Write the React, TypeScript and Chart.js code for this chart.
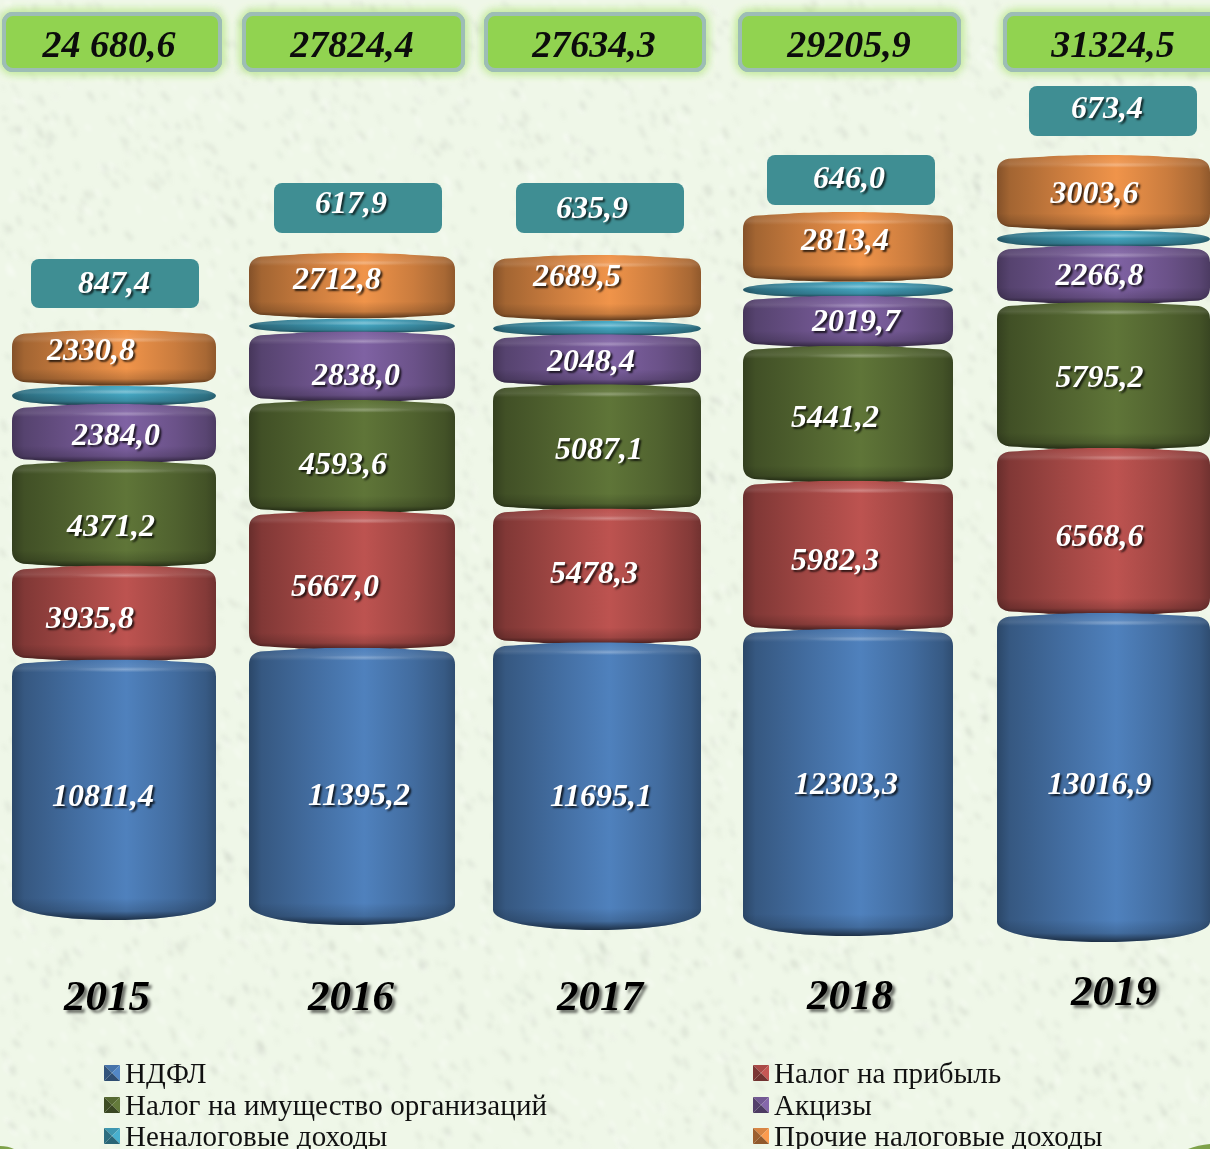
import React, { useEffect, useRef } from "react";
import { Chart, registerables, CategoryScale } from "chart.js";

const years = ["2015", "2016", "2017", "2018", "2019"];
const seriesNames = ["НДФЛ", "Налог на прибыль", "Налог на имущество организаций", "Акцизы", "Неналоговые доходы", "Прочие налоговые доходы"];
const ndfl = [10811.4, 11395.2, 11695.1, 12303.3, 13016.9];
const profitTax = [3935.8, 5667.0, 5478.3, 5982.3, 6568.6];
const propertyTax = [4371.2, 4593.6, 5087.1, 5441.2, 5795.2];
const excise = [2384.0, 2838.0, 2048.4, 2019.7, 2266.8];
const nonTax = [847.4, 617.9, 635.9, 646.0, 673.4];
const otherTax = [2330.8, 2712.8, 2689.5, 2813.4, 3003.6];
const totals = ["24 680,6", "27824,4", "27634,3", "29205,9", "31324,5"];

const seriesValues = [ndfl, profitTax, propertyTax, excise, nonTax, otherTax];
const seriesColors = ["#4f81bd", "#bd5350", "#5f7538", "#7f62a3", "#45a8c4", "#f0944a"];

// layout of the picture
const W = 1210, H = 1149;
const barCenters = [114, 352, 597, 848, 1103.5];
const barWidths = [204, 206, 208, 210, 213];
const barBottoms = [920, 925, 930, 936, 942];
const pxPerUnit = [0.023905, 0.024151, 0.024426, 0.02479, 0.025124];
const labelShift: any[][][] = [
  [[-11, 5], [-24, 3.5], [-3, 10.5], [2, 0.5], null, [-23, -8.5]],
  [[7, 7.5], [-17, 4], [-9, 6], [4, 7], null, [-15, -7]],
  [[4, 8.5], [-3, -5], [2, 0], [-6, -1], null, [-20, -12]],
  [[-2, 0], [-13, 3], [-13, 1], [8, -2], null, [-3, -7]],
  [[-4, 5], [-4, 3], [-4, 0], [-4, -1], null, [-9, 0]],
];
const tealBoxes = [[31, 259, 168, 49, 114, 285], [274, 183, 168, 50, 351, 205], [516, 183, 168, 50, 592, 210], [767, 155, 168, 50, 849, 180], [1029, 86, 168, 50, 1107, 110]];
const totalBoxes = [[4, 14, 216, 56, 109], [244, 14, 219, 56, 352], [486, 14, 218, 56, 594], [740, 14, 219, 56, 849], [1005, 14, 222, 56, 1113]];
const yearAnchors = [[107, 999], [351, 999], [600, 999], [850, 998], [1114, 994]];
const legendSlots = [[104, 1083], [753, 1083], [104, 1115], [753, 1115], [104, 1146], [753, 1146]];

class PlacedCategoryScale extends CategoryScale {
  static id = "placedCategory";
  static defaults = CategoryScale.defaults;
  getPixelForValue(value: any) {
    const i = typeof value === "number" ? value : (this as any).parse(value);
    return barCenters[Math.round(i)];
  }
}
Chart.register(...registerables, PlacedCategoryScale as any);

const shade = (hex: string, f: number) => {
  const n = parseInt(hex.slice(1), 16);
  const c = [(n >> 16) & 255, (n >> 8) & 255, n & 255].map((v) => Math.max(0, Math.min(255, Math.round(v * f))));
  return `rgb(${c[0]},${c[1]},${c[2]})`;
};
const hash = (i: number) => {
  const s = Math.sin(i * 12.9898 + 78.233) * 43758.5453;
  return s - Math.floor(s);
};

let texture: HTMLCanvasElement | null = null;
function getTexture() {
  if (texture) return texture;
  const strokes = document.createElement("canvas");
  strokes.width = W; strokes.height = H;
  const s = strokes.getContext("2d")!;
  s.lineCap = "round";
  for (let i = 0; i < 7000; i++) {
    const x = hash(i * 3 + 1) * W, y = hash(i * 3 + 2) * H;
    const a = 0.7 + hash(i * 3 + 3) * 0.6;
    const l = 2 + hash(i * 7 + 5) * 7;
    const dark = hash(i * 11 + 7) > 0.35;
    s.strokeStyle = dark ? `rgba(130,135,125,${0.05 + hash(i * 13) * 0.12})` : "rgba(255,255,255,0.35)";
    s.lineWidth = 2 + hash(i * 17) * 2.5;
    s.beginPath();
    s.moveTo(x, y);
    s.lineTo(x + Math.cos(a) * l, y + Math.sin(a) * l);
    s.stroke();
  }
  const c = document.createElement("canvas");
  c.width = W; c.height = H;
  const g = c.getContext("2d")!;
  g.fillStyle = "#eff7e8";
  g.fillRect(0, 0, W, H);
  g.filter = "blur(2px)";
  g.drawImage(strokes, 0, 0);
  g.filter = "none";
  // green slivers of the slide frame in the lower corners
  g.fillStyle = "#7ea24a";
  g.beginPath();
  g.moveTo(0, 1146); g.quadraticCurveTo(8, 1146, 14, 1149); g.lineTo(0, 1149); g.closePath();
  g.fill();
  g.beginPath();
  g.moveTo(W, 1144); g.quadraticCurveTo(1198, 1145, 1188, 1149); g.lineTo(W, 1149); g.closePath();
  g.fill();
  texture = c;
  return c;
}

function barrelPath(ctx: CanvasRenderingContext2D, x0: number, x1: number, top: number, bot: number, teal: boolean, blue: boolean) {
  const w = x1 - x0, cx = (x0 + x1) / 2, h = bot - top;
  ctx.beginPath();
  if (teal) {
    const m = (top + bot) / 2;
    ctx.moveTo(x0, m);
    ctx.bezierCurveTo(x0 + 1, top + 3, x0 + w * 0.15, top + 1, cx, top);
    ctx.bezierCurveTo(x1 - w * 0.15, top + 1, x1 - 1, top + 3, x1, m);
    ctx.bezierCurveTo(x1 - 1, bot - 3, x1 - w * 0.15, bot - 1, cx, bot);
    ctx.bezierCurveTo(x0 + w * 0.15, bot - 1, x0 + 1, bot - 3, x0, m);
    ctx.closePath();
    return;
  }
  const r = Math.min(14, h * 0.35);
  const e = 15;
  ctx.moveTo(x0, top + r + 3);
  ctx.quadraticCurveTo(x0, top + 4, x0 + e, top + 3.5);
  ctx.bezierCurveTo(x0 + w * 0.22, top + 1.8, cx - w * 0.2, top, cx, top);
  ctx.bezierCurveTo(cx + w * 0.2, top, x1 - w * 0.22, top + 1.8, x1 - e, top + 3.5);
  ctx.quadraticCurveTo(x1, top + 4, x1, top + r + 3);
  if (blue) {
    ctx.lineTo(x1, bot - 20);
    ctx.bezierCurveTo(x1, bot - 9, x1 - w * 0.2, bot, cx, bot);
    ctx.bezierCurveTo(x0 + w * 0.2, bot, x0, bot - 9, x0, bot - 20);
  } else {
    ctx.lineTo(x1, bot - r - 3);
    ctx.quadraticCurveTo(x1, bot - 4, x1 - e, bot - 3.5);
    ctx.bezierCurveTo(x1 - w * 0.22, bot - 1.8, cx + w * 0.2, bot, cx, bot);
    ctx.bezierCurveTo(cx - w * 0.2, bot, x0 + w * 0.22, bot - 1.8, x0 + e, bot - 3.5);
    ctx.quadraticCurveTo(x0, bot - 4, x0, bot - r - 3);
  }
  ctx.closePath();
}

function drawBarrel(ctx: CanvasRenderingContext2D, el: any, color: string, s: number) {
  const { x, y, base, width } = el;
  const teal = s === 4, blue = s === 0;
  const x0 = x - width / 2, x1 = x + width / 2;
  const top = Math.min(y, base) - (teal || s === 5 ? 0 : 2), bot = Math.max(y, base);
  const h = bot - top;
  ctx.save();
  barrelPath(ctx, x0, x1, top, bot, teal, blue);
  ctx.clip();
  const g = ctx.createLinearGradient(x0, 0, x1, 0);
  g.addColorStop(0, shade(color, 0.55));
  g.addColorStop(0.06, shade(color, 0.68));
  g.addColorStop(0.3, shade(color, 0.84));
  g.addColorStop(0.56, shade(color, 1));
  g.addColorStop(0.8, shade(color, 0.84));
  g.addColorStop(0.95, shade(color, 0.7));
  g.addColorStop(1, shade(color, 0.6));
  ctx.fillStyle = g;
  ctx.fillRect(x0, top, width, h);
  // upper bevel
  const band = teal ? h * 0.45 : 13;
  const up = ctx.createLinearGradient(0, top, 0, top + band);
  up.addColorStop(0, "rgba(255,255,255,0)");
  up.addColorStop(0.7, "rgba(255,255,255,0.1)");
  up.addColorStop(1, "rgba(255,255,255,0)");
  ctx.fillStyle = up;
  ctx.fillRect(x0, top, width, band);
  // spot of light on the bevel
  ctx.save();
  ctx.translate(x + width * 0.05, top + (teal ? h * 0.3 : 10));
  ctx.scale(1, 0.05);
  const sp = ctx.createRadialGradient(0, 0, 0, 0, 0, width * 0.26);
  sp.addColorStop(0, "rgba(255,255,255,0.24)");
  sp.addColorStop(1, "rgba(255,255,255,0)");
  ctx.fillStyle = sp;
  ctx.beginPath();
  ctx.arc(0, 0, width * 0.26, 0, Math.PI * 2);
  ctx.fill();
  ctx.restore();
  // lower bevel
  const lb = teal ? h * 0.6 : blue ? 22 : 17;
  const dn = ctx.createLinearGradient(0, bot - lb, 0, bot);
  dn.addColorStop(0, "rgba(0,0,0,0)");
  dn.addColorStop(0.6, "rgba(0,0,0,0.16)");
  dn.addColorStop(1, "rgba(0,0,0,0.62)");
  ctx.fillStyle = dn;
  ctx.fillRect(x0, bot - lb, width, lb);
  ctx.restore();
}

const fmt = (v: number) => v.toFixed(1).replace(".", ",");
const serif = (px: number) => `italic bold ${px}px "Liberation Serif"`;

function roundedBox(ctx: CanvasRenderingContext2D, x: number, y: number, w: number, h: number, r: number) {
  ctx.beginPath();
  ctx.roundRect(x, y, w, h, r);
}

const paperPlugin = {
  id: "paper",
  beforeDraw(chart: any) {
    chart.ctx.drawImage(getTexture(), 0, 0);
  },
};

const barrelPlugin = {
  id: "barrels",
  beforeDatasetDraw(chart: any, args: any) {
    const ds = chart.data.datasets[args.index];
    const el = args.meta.data[ds.yearIndex];
    if (el) drawBarrel(chart.ctx, el, ds.backgroundColor, ds.seriesIndex);
    return false;
  },
};

const textPlugin = {
  id: "texts",
  afterDraw(chart: any) {
    const ctx: CanvasRenderingContext2D = chart.ctx;
    ctx.save();
    ctx.textAlign = "center";
    ctx.textBaseline = "middle";
    chart.data.datasets.forEach((ds: any, di: number) => {
      const el = chart.getDatasetMeta(di).data[ds.yearIndex];
      const shift = labelShift[ds.yearIndex][ds.seriesIndex];
      if (!shift) return;
      ctx.save();
      ctx.font = serif(32);
      ctx.fillStyle = "#ffffff";
      ctx.shadowColor = "rgba(0,0,0,0.75)";
      ctx.shadowBlur = 2;
      ctx.shadowOffsetX = 2;
      ctx.shadowOffsetY = 2;
      const value = ds.data[ds.yearIndex];
      ctx.fillText(fmt(value), el.x + shift[0], (el.y + el.base) / 2 + shift[1] + 2);
      ctx.restore();
    });
    // teal value plates
    tealBoxes.forEach(([x, y, w, h, tx, ty], i) => {
      ctx.fillStyle = "#3f8e93";
      roundedBox(ctx, x, y, w, h, 8);
      ctx.fill();
      ctx.save();
      ctx.font = serif(32);
      ctx.fillStyle = "#ffffff";
      ctx.shadowColor = "rgba(0,0,0,0.7)";
      ctx.shadowBlur = 2;
      ctx.shadowOffsetX = 2;
      ctx.shadowOffsetY = 2;
      ctx.fillText(fmt(nonTax[i]), tx, ty);
      ctx.restore();
    });
    // totals
    totalBoxes.forEach(([x, y, w, h, tx], i) => {
      ctx.save();
      ctx.shadowColor = "rgba(175,228,120,1)";
      ctx.shadowBlur = 10;
      ctx.strokeStyle = "#9dbdb5";
      ctx.lineWidth = 4;
      roundedBox(ctx, x, y, w, h, 9);
      ctx.stroke();
      ctx.stroke();
      ctx.shadowColor = "transparent";
      ctx.fillStyle = "#91d350";
      ctx.fill();
      ctx.stroke();
      ctx.restore();
      ctx.font = serif(38);
      ctx.fillStyle = "#0c0c0c";
      ctx.fillText(totals[i], tx, 47);
    });
    // years
    years.forEach((label, i) => {
      ctx.save();
      ctx.font = serif(43);
      ctx.fillStyle = "#000000";
      ctx.shadowColor = "rgba(0,0,0,0.55)";
      ctx.shadowBlur = 3;
      ctx.shadowOffsetX = 3;
      ctx.shadowOffsetY = 3;
      ctx.fillText(label, yearAnchors[i][0], yearAnchors[i][1]);
      ctx.restore();
    });
    // legend
    ctx.textAlign = "left";
    ctx.textBaseline = "alphabetic";
    seriesNames.forEach((name, s) => {
      const [x, y] = legendSlots[s];
      const m = 16, my = y - 18;
      const col = seriesColors[s];
      const tri = (pts: number[][], f: number) => {
        ctx.fillStyle = shade(col, f);
        ctx.beginPath();
        pts.forEach((p, k) => (k ? ctx.lineTo(p[0], p[1]) : ctx.moveTo(p[0], p[1])));
        ctx.closePath();
        ctx.fill();
      };
      const c = [x + m / 2, my + m / 2];
      tri([[x, my], [x + m, my], c], 0.9);
      tri([[x + m, my], [x + m, my + m], c], 1.05);
      tri([[x + m, my + m], [x, my + m], c], 0.6);
      tri([[x, my + m], [x, my], c], 0.65);
      ctx.font = '29px "Liberation Serif"';
      (ctx as any).letterSpacing = "0.12px";
      ctx.fillStyle = "#111111";
      ctx.fillText(name, x + 21, y);
      (ctx as any).letterSpacing = "0px";
    });
    ctx.restore();
  },
};

export default function App() {
  const ref = useRef<HTMLCanvasElement>(null);
  useEffect(() => {
    document.body.style.margin = "0";
    const datasets: any[] = [];
    const scales: any = {
      x: { type: "placedCategory", display: false, stacked: true },
    };
    years.forEach((_, yi) => {
      const k = pxPerUnit[yi];
      const id = `y${yi}`;
      scales[id] = {
        type: "linear",
        display: false,
        stacked: true,
        min: -(H - barBottoms[yi]) / k,
        max: barBottoms[yi] / k,
      };
      seriesValues.forEach((vals, si) => {
        datasets.push({
          label: `${seriesNames[si]} ${years[yi]}`,
          data: years.map((_, j) => (j === yi ? vals[j] : null)),
          yAxisID: id,
          xAxisID: "x",
          stack: "all",
          barThickness: barWidths[yi],
          backgroundColor: seriesColors[si],
          yearIndex: yi,
          seriesIndex: si,
        });
      });
    });
    const chart = new Chart(ref.current!, {
      type: "bar",
      data: { labels: years, datasets },
      options: {
        responsive: false,
        animation: false,
        layout: { padding: 0 },
        events: [],
        plugins: { legend: { display: false }, tooltip: { enabled: false }, title: { display: false } },
        scales,
      },
      plugins: [paperPlugin, barrelPlugin, textPlugin],
    } as any);
    return () => chart.destroy();
  }, []);
  return (
    <div style={{ position: "fixed", left: 0, top: 0, width: W, height: H, overflow: "hidden" }}>
      <canvas ref={ref} width={W} height={H} style={{ display: "block" }} />
    </div>
  );
}
